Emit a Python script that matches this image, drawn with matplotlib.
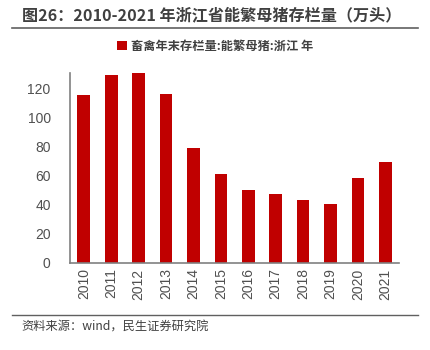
import matplotlib
matplotlib.use('Agg')
import matplotlib.pyplot as plt
from matplotlib.lines import Line2D

plt.rcParams['font.family'] = ['Noto Sans CJK SC', 'DejaVu Sans']

years = ['2010', '2011', '2012', '2013', '2014', '2015', '2016', '2017', '2018', '2019', '2020', '2021']
sows = [115.4, 129.0, 130.5, 116.0, 79.0, 61.4, 50.3, 47.6, 43.4, 40.2, 58.1, 69.7]
series_name = '畜禽年末存栏量:能繁母猪:浙江 年'
title = '图26：2010-2021 年浙江省能繁母猪存栏量（万头）'
source = '资料来源：wind，民生证券研究院'

fig = plt.figure(figsize=(4.3, 3.5), dpi=100)
ax = fig.add_axes([0.163, 0.249, 0.765, 0.542])
x = range(len(years))
ax.bar(x, sows, width=0.46, color='#C00000', label=series_name)
ax.set_xlim(-0.5, 11.5)
ax.set_ylim(0, 130.5)
ax.set_yticks(range(0, 121, 20))
ax.set_xticks(list(x))
ax.set_xticklabels(years, rotation=90)
ax.tick_params(axis='y', length=0, labelsize=10, labelcolor='#505050', pad=14)
ax.tick_params(axis='x', length=0, labelsize=10, labelcolor='#505050', pad=4)
for lab in ax.get_xticklabels() + ax.get_yticklabels():
    lab.set_family(['Liberation Sans', 'DejaVu Sans'])
for s in ['top', 'right']:
    ax.spines[s].set_visible(False)
for s in ['left', 'bottom']:
    ax.spines[s].set_color('#808080')
    ax.spines[s].set_linewidth(1.2)

fig.text(0.051, 0.957, title, fontsize=11.6, fontweight='bold', color='#404040', va='center')
fig.add_artist(Line2D([0.028, 0.972], [0.921, 0.921], color='#606060', lw=1.2))
fig.legend(loc='center', bbox_to_anchor=(0.5, 0.868), frameon=False,
           prop={'size': 8.8, 'weight': 'bold'},
           handlelength=0.8, handleheight=0.8, handletextpad=0.3, labelcolor='#404040')
fig.add_artist(Line2D([0.028, 0.972], [0.099, 0.099], color='#606060', lw=1.0))
fig.text(0.049, 0.066, source, fontsize=8.8, color='#404040', va='center')

fig.savefig('out.png', dpi=100)
